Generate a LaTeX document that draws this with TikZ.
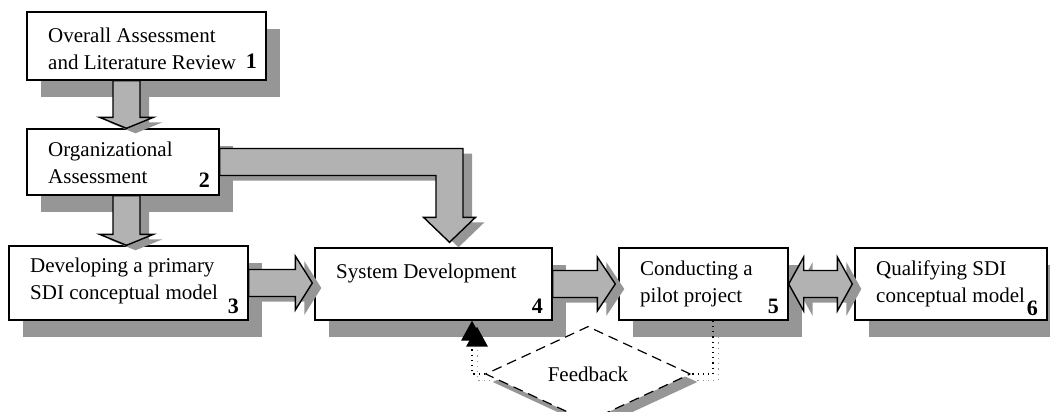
\documentclass[tikz,border=0pt]{standalone}
\usepackage{fontspec}
\setmainfont{Liberation Serif}
\usetikzlibrary{shapes.geometric,shadows,arrows.meta,calc}

\definecolor{arrowgray}{RGB}{178,178,178}
\definecolor{shadowgray}{RGB}{150,150,150}

\tikzset{
    stagebox/.style={draw,line width=0.7pt,fill=white,inner sep=0pt,
        drop shadow={shadow xshift=6.75pt,shadow yshift=-8.5pt,fill=shadowgray,opacity=1}},
    stagetext/.style={anchor=base west,align=left,inner sep=0pt,font=\fontsize{10.5}{13.5}\selectfont},
    stagenum/.style={anchor=base east,inner sep=0pt,font=\fontsize{11}{14}\selectfont\bfseries},
    blockarrow/.style={draw,line width=0.7pt,fill=arrowgray,line join=miter,
        preaction={fill=shadowgray,transform canvas={shift={(4.5pt,-2.5pt)}}}},
    feedback/.style={diamond,draw,line width=0.6pt,dash pattern=on 5pt off 3pt,fill=white,
        minimum width=102.5pt,minimum height=36.5pt,inner sep=0pt,font=\fontsize{10.5}{14}\selectfont,
        drop shadow={shadow xshift=3.5pt,shadow yshift=-4pt,fill=shadowgray,opacity=1}},
    fbline/.style={dotted,line width=0.6pt,
        preaction={draw=shadowgray,dotted,transform canvas={shift={(2.5pt,-3pt)}}}},
    fbtip/.style={-{Triangle[length=10pt,width=11pt,line width=0pt,fill=black]}}
}

% block arrows: from -> to, head length
\newcommand\downblock[3]{%
    \draw[blockarrow] let \p1=(#1), \p2=(#2) in
        (\x1-6.75pt,\y1) -- (\x1+6.75pt,\y1) -- (\x1+6.75pt,\y2+#3) -- (\x1+13.5pt,\y2+#3)
        -- (\x1,\y2) -- (\x1-13.5pt,\y2+#3) -- (\x1-6.75pt,\y2+#3) -- cycle;}
\newcommand\rightblock[3]{%
    \draw[blockarrow] let \p1=(#1), \p2=(#2) in
        (\x1,\y1+6.75pt) -- (\x2-#3,\y1+6.75pt) -- (\x2-#3,\y1+13.5pt) -- (\x2,\y1)
        -- (\x2-#3,\y1-13.5pt) -- (\x2-#3,\y1-6.75pt) -- (\x1,\y1-6.75pt) -- cycle;}
\newcommand\bothblock[3]{%
    \draw[blockarrow] let \p1=(#1), \p2=(#2) in
        (\x1,\y1) -- (\x1+#3,\y1+13.5pt) -- (\x1+#3,\y1+6.75pt) -- (\x2-#3,\y1+6.75pt)
        -- (\x2-#3,\y1+13.5pt) -- (\x2,\y1) -- (\x2-#3,\y1-13.5pt) -- (\x2-#3,\y1-6.75pt)
        -- (\x1+#3,\y1-6.75pt) -- (\x1+#3,\y1-13.5pt) -- cycle;}
\newcommand\bentblock[3]{%
    \draw[blockarrow] let \p1=(#1), \p2=(#2) in
        (\x1,\y1+6.75pt) -- (\x2+6.75pt,\y1+6.75pt) -- (\x2+6.75pt,\y2+#3) -- (\x2+13pt,\y2+#3)
        -- (\x2,\y2) -- (\x2-13pt,\y2+#3) -- (\x2-6.75pt,\y2+#3) -- (\x2-6.75pt,\y1-6.75pt)
        -- (\x1,\y1-6.75pt) -- cycle;}

\begin{document}
\begin{tikzpicture}[x=0.5pt,y=-0.5pt]
    \useasboundingbox (0,0) rectangle (1050,412);
    \foreach \n/\x/\y/\w/\h/\lbl/\dn/\up in {
        1/146.5/46/119.5/34/{Overall Assessment\\and Literature Review}/29/6,
        2/123/162/96/33/{Organizational\\Assessment}/27.5/4,
        3/128.5/283/119.5/37/{Developing a primary\\SDI conceptual model}/27/3.5,
        4/433.5/284/118.5/36/{System Development}/15.5/3.5,
        5/703.5/284/84.5/36/{Conducting a\\pilot project}/27.5/3.5,
        6/951/284/96/36/{Qualifying SDI\\conceptual model}/27.5/2.5
    }{
        \node[stagebox,minimum width=\w pt,minimum height=\h pt](b\n) at (\x,\y){};
        \node[stagetext](t\n) at ([xshift=10.75pt,yshift=-\dn pt]b\n.north west){\lbl};
        \node[stagenum](n\n) at ([xshift=-4.75pt,yshift=\up pt]b\n.south east){\n};
    }

    \downblock{[xshift=-10pt]b1.south}{b2.north}{5.5pt}
    \downblock{[xshift=1.75pt]b2.south}{b3.north}{5.5pt}
    \bentblock{b2.east}{[xshift=8pt,yshift=2.5pt]b4.north}{12.5pt}
    \rightblock{b3.east}{[xshift=-1pt]b4.west}{8.5pt}
    \rightblock{b4.east}{[xshift=-1.5pt]b5.west}{9pt}
    \bothblock{b5.east}{[xshift=-1pt]b6.west}{7.5pt}

    \node[feedback](fb) at (588,374){Feedback};
    \draw[fbline] ([xshift=4.75pt]b5.south) |- (fb.east);
    \draw[fbline,fbtip] (fb.west) -| ([xshift=19.25pt]b4.south);
\end{tikzpicture}
\end{document}
